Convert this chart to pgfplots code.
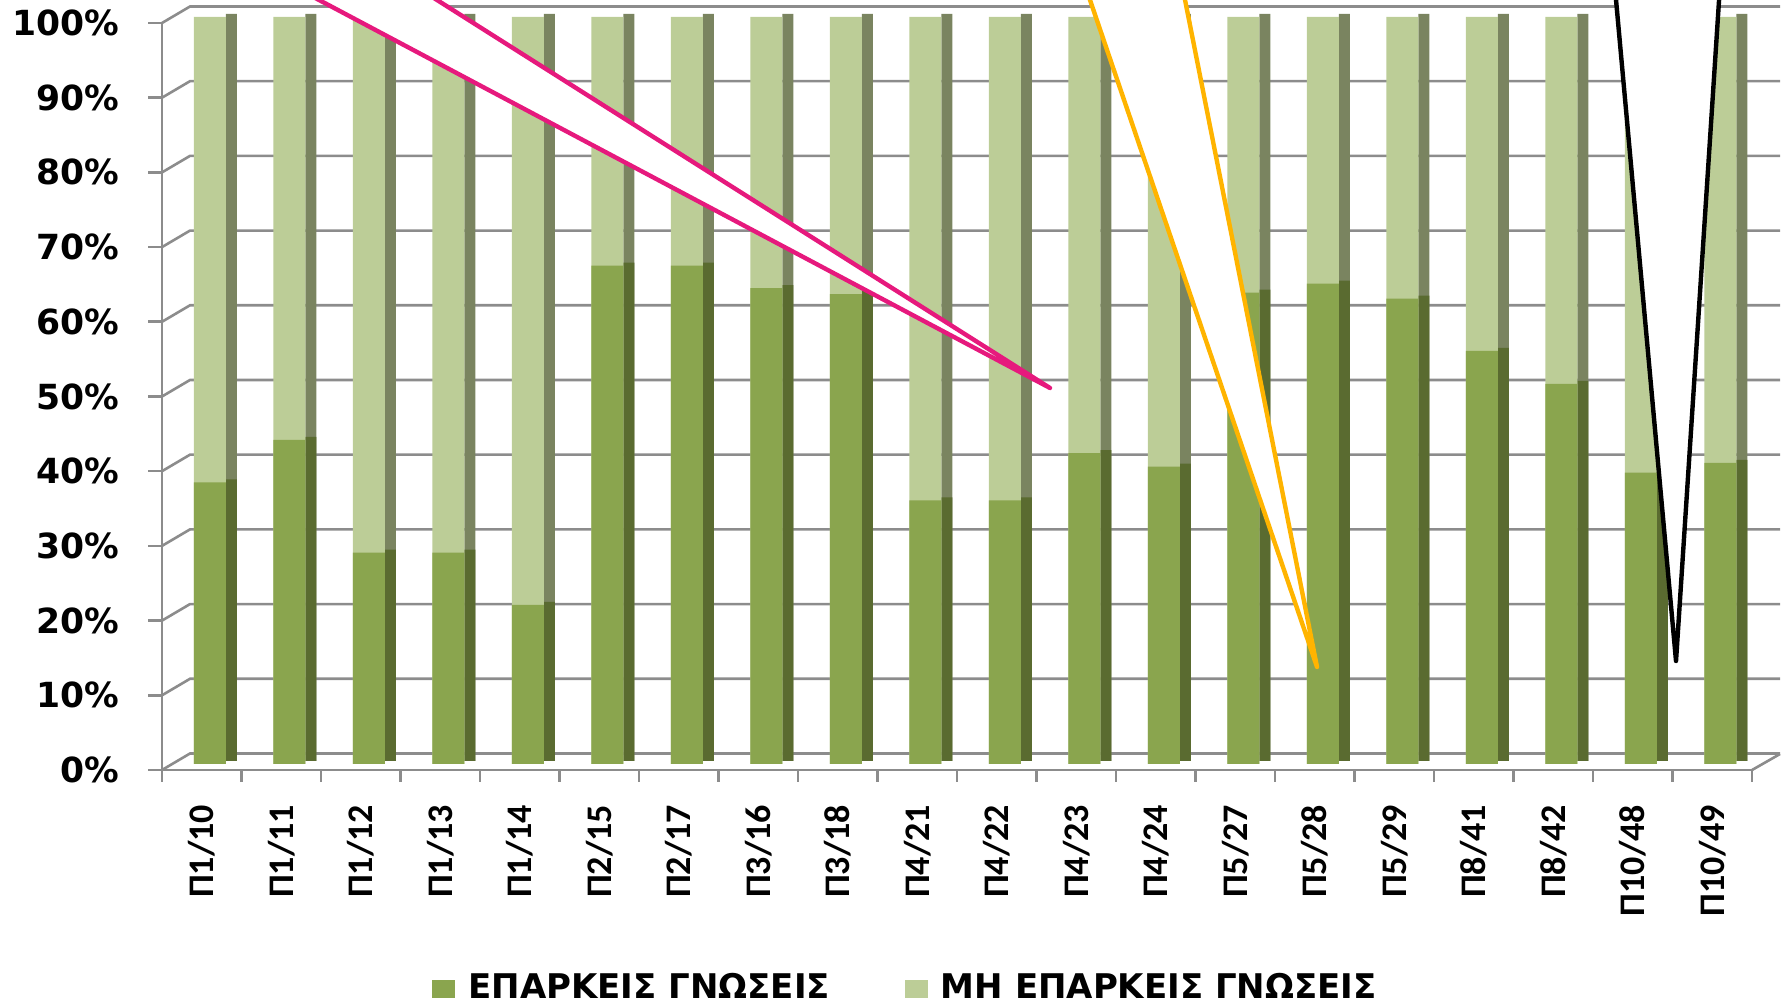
\documentclass[border=0pt]{standalone}
\usepackage{pgfplots}
\pgfplotsset{compat=1.18}
\usepackage{pgfplotstable}
\usepackage{fontspec}
\setmainfont{Carlito}
\newfontfamily\tickfont{DejaVu Sans}
\newfontfamily\calfont{Carlito}

\definecolor{frontdark}{RGB}{138,165,78}
\definecolor{sidedark}{RGB}{90,107,48}
\definecolor{frontlight}{RGB}{188,205,151}
\definecolor{sidelight}{RGB}{122,132,96}
\definecolor{gridgray}{RGB}{140,140,140}
\definecolor{calloutpink}{RGB}{230,25,125}
\definecolor{calloutorange}{RGB}{255,180,0}

\pgfplotstableread{
x known notknown
0 37.7 62.3
1 43.4 56.6
2 28.3 71.7
3 28.3 71.7
4 21.3 78.7
5 66.7 33.3
6 66.7 33.3
7 63.7 36.3
8 62.9 37.1
9 35.3 64.7
10 35.3 64.7
11 41.6 58.4
12 39.8 60.2
13 63.1 36.9
14 64.3 35.7
15 62.3 37.7
16 55.3 44.7
17 50.9 49.1
18 39.0 61.0
19 40.3 59.7
}\datatable

\begin{document}
\begin{tikzpicture}
\useasboundingbox (0,0) rectangle (893.5pt,502.5pt);
\clip (0,0) rectangle (893.5pt,502.5pt);
% back wall gridlines (pixel coordinates of the reference)
\begin{scope}[shift={(0pt,502.5pt)}, x=0.5pt, y=-0.5pt]
\foreach \v in {0,10,...,100} {
  \pgfmathsetmacro\yf{770-7.47*\v}
  \pgfmathsetmacro\yb{\yf-16.5}
  \draw[gridgray, line width=1.3pt] (162,\yf) -- (190,\yb) -- (1780,\yb);
}
\draw[gridgray, line width=1.3pt] (1752,770) -- (1780,754);
\foreach \k in {0,...,20} {
  \draw[gridgray, line width=1.3pt] ({162+79.5*\k},770) -- ({162+79.5*\k},782);
}
\end{scope}

\begin{axis}[
  at={(81pt,117.5pt)}, anchor=south west,
  scale only axis, width=795pt, height=373.5pt,
  xmin=-0.5, xmax=19.5, ymin=0, ymax=100,
  axis x line*=bottom, axis y line*=left,
  axis line style={gridgray, line width=1.3pt},
  ybar,
  xtick={0,...,19},
  xticklabels={Π1/10,Π1/11,Π1/12,Π1/13,Π1/14,Π2/15,Π2/17,Π3/16,Π3/18,Π4/21,Π4/22,Π4/23,Π4/24,Π5/27,Π5/28,Π5/29,Π8/41,Π8/42,Π10/48,Π10/49},
  xtick style={draw=none},
  ytick={0,10,...,100},
  yticklabels={0\%,10\%,20\%,30\%,40\%,50\%,60\%,70\%,80\%,90\%,100\%},
  ytick style={gridgray, line width=1.3pt},
  major tick length=7pt,
  tick align=outside,
  xticklabel style={rotate=90, anchor=east, inner sep=0pt, font=\calfont\bfseries\fontsize{18}{20}\selectfont},
  xticklabel shift=10.25pt,
  yticklabel style={anchor=east, inner sep=0pt, font=\tickfont\bfseries\fontsize{17.3}{19}\selectfont},
  yticklabel shift=14pt,
  clip=false,
  legend image code/.code={\fill[#1] (0pt,-5.25pt) rectangle (11.5pt,3.75pt);},
  legend style={at={(0.467,-0.2905)}, anchor=center, draw=none, fill=none,
    legend columns=2, font=\tickfont\bfseries\fontsize{17}{19}\selectfont,
    nodes={inner sep=0pt},
    /tikz/every odd column/.append style={column sep=6.5pt},
    /tikz/every even column/.append style={column sep=37.5pt}},
]
% side faces
\addplot[forget plot, draw=none, fill=sidelight, bar width=5.5pt, bar shift=14.75pt, yshift=4.5pt]
  table[x=x, y expr=\thisrow{known}+\thisrow{notknown}] {\datatable};
\addplot[forget plot, draw=none, fill=sidedark, bar width=5.5pt, bar shift=14.75pt, yshift=4.5pt]
  table[x=x, y=known] {\datatable};
% front faces
\addplot[forget plot, draw=none, fill=frontlight, bar width=16pt, bar shift=4pt, yshift=3pt]
  table[x=x, y expr=\thisrow{known}+\thisrow{notknown}] {\datatable};
\addplot[forget plot, draw=none, fill=frontdark, bar width=16pt, bar shift=4pt, yshift=3pt]
  table[x=x, y=known] {\datatable};
\addlegendimage{fill=frontdark, draw=none}
\addlegendentry{ΕΠΑΡΚΕΙΣ ΓΝΩΣΕΙΣ}
\addlegendimage{fill=frontlight, draw=none}
\addlegendentry{ΜΗ ΕΠΑΡΚΕΙΣ ΓΝΩΣΕΙΣ}
\end{axis}

% callout pointers
\begin{scope}[shift={(0pt,502.5pt)}, x=0.5pt, y=-0.5pt]
\fill[white] (262.5,-30) -- (1050,388) -- (389.6,-30) -- cycle;
\draw[calloutpink, line width=2.2pt, line join=round, line cap=round] (262.5,-30) -- (1050,388) -- (389.6,-30);
\fill[white] (1079.8,-30) -- (1317,667) -- (1179.1,-30) -- cycle;
\draw[calloutorange, line width=2.2pt, line join=round, line cap=round] (1079.8,-30) -- (1317,667) -- (1179.1,-30);
\fill[white] (1613.3,-30) -- (1676,661) -- (1721,-30) -- cycle;
\draw[black, line width=2.2pt, line join=round, line cap=round] (1613.3,-30) -- (1676,661) -- (1721,-30);
\end{scope}
\end{tikzpicture}
\end{document}
